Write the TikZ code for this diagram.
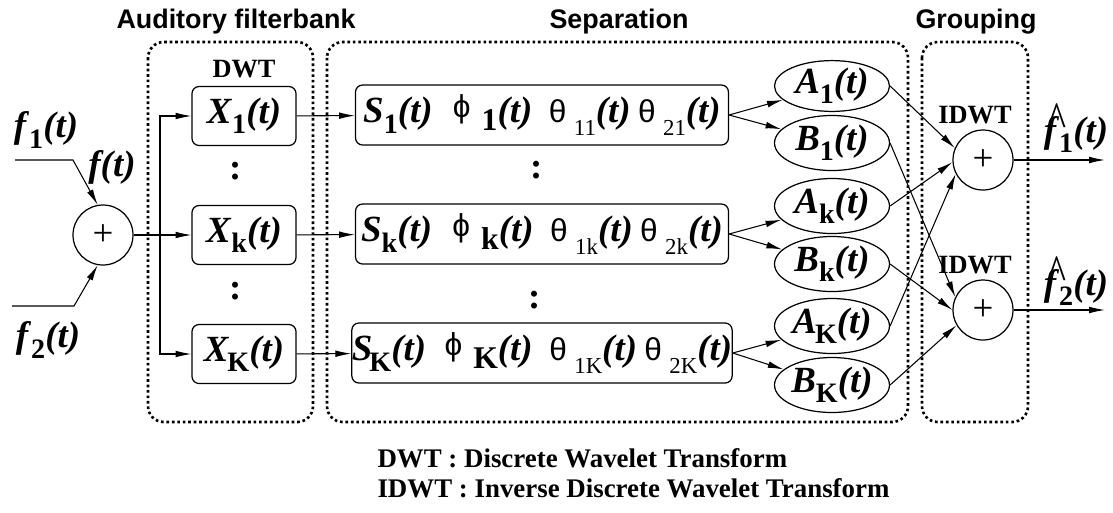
\documentclass[tikz,border=0pt]{standalone}
\usepackage{fontspec}
\setmainfont{Liberation Serif}
\setsansfont{Liberation Sans}
\newfontfamily\grk{Liberation Sans}
\usetikzlibrary{arrows.meta,shapes.geometric,positioning}

\newcommand{\varsig}[3][0em]{\textbf{\textit{#2}}\hspace{#1}\raisebox{-0.28em}{\fontsize{16}{16}\selectfont\bfseries #3}\textbf{\textit{(t)}}}
\newcommand{\phsig}[1]{\raisebox{0.15em}{\grk\fontsize{18}{18}\selectfont ϕ}\hspace{0.3em}\raisebox{-0.2em}{\fontsize{18}{18}\selectfont\bfseries #1}\textbf{\textit{(t)}}}
\newcommand{\thsig}[1]{{\grk\fontsize{18}{18}\selectfont θ}\hspace{0.2em}\raisebox{-0.35em}{\fontsize{13}{13}\selectfont #1}\textbf{\textit{(t)}}}
\newcommand{\fhat}[1]{\makebox[0pt][l]{\hspace{0.1em}\raisebox{0.12em}{\scalebox{1.1}[1.4]{\textasciicircum}}}\varsig{f}{#1}}

\begin{document}
\begin{tikzpicture}[
    ->,
    >={Latex[length=9pt,width=3.8pt]},
    x=0.02cm, y=-0.02cm,
    semithick
  ]
  \tikzstyle{every node}=[font=\fontsize{21}{25}\selectfont]
  \tikzstyle{adder}=[circle,draw,line width=0.7pt,minimum size=1.2cm,inner sep=0pt]
  \tikzstyle{dwtbox}=[draw,line width=0.7pt,rounded corners=4pt,minimum width=2.08cm,minimum height=1.18cm,inner sep=0pt]
  \tikzstyle{sepbox}=[dwtbox,minimum width=7.46cm,minimum height=1.2cm]
  \tikzstyle{part}=[ellipse,draw,line width=0.7pt,minimum width=2.3cm,minimum height=1.1cm,inner sep=0pt]
  \tikzstyle{frame}=[draw,-,line width=1.5pt,dash pattern=on 1.5pt off 1.6pt,rounded corners=9pt]
  \tikzstyle{title}=[font=\sffamily\bfseries\fontsize{15.3}{18}\selectfont]
  \tikzstyle{tag}=[font=\bfseries\fontsize{15}{17}\selectfont,inner sep=1pt]
  \tikzstyle{legend}=[font=\bfseries\fontsize{15.3}{17}\selectfont,align=left,inner sep=0pt]

  \useasboundingbox (0,0) rectangle (1113,512);

  % frames and titles
  \draw[frame] (148,42) rectangle (313,422);
  \draw[frame] (327,42) rectangle (908,422);
  \draw[frame] (922,42) rectangle (1028,422);
  \node[title] (tfilt) at (236,22) {Auditory filterbank};
  \node[title] (tsep)  at (619,22) {Separation};
  \node[title] (tgrp)  at (976,22) {Grouping};

  % mixing
  \node[adder] (mix) at (103,235) {+};
  \node (f1lbl) at (46,130) {\varsig{f}{1}};
  \node (f2lbl) at (48,340) {\varsig{f}{2}};
  \node (flbl)  at (112,167) {\textbf{\textit{f(t)}}};
  \coordinate (f1in)   at (15,160);
  \coordinate (f1bend) at (73,160);
  \coordinate (f2in)   at (12,306);
  \coordinate (f2bend) at (74,306);
  \coordinate (split)  at (160,235);

  % filterbank
  \node[dwtbox] (X1) at (244,116) {\varsig{X}{1}};
  \node[dwtbox] (Xk) at (244,235) {\varsig{X}{k}};
  \node[dwtbox] (XK) at (244,354) {\varsig[-0.05em]{X}{K}};
  \node[tag] (dwt) [above=3pt of X1] {DWT};
  \node (xdots1) at (236,171) {\textbf{:}};
  \node (xdots2) at (236,291) {\textbf{:}};

  % separation
  \node[sepbox] (S1) at (542,115) {\varsig{S}{1}\hspace{0.55em}\phsig{1}\hspace{0.45em}\thsig{11}\hspace{0.2em}\thsig{21}};
  \node[sepbox] (Sk) at (542,234) {\varsig{S}{k}\hspace{0.55em}\phsig{k}\hspace{0.45em}\thsig{1k}\hspace{0.2em}\thsig{2k}};
  \node[sepbox] (SK) at (542,353) {\varsig[-0.08em]{S}{K}\hspace{0.5em}\phsig{K}\hspace{0.45em}\thsig{1K}\hspace{0.2em}\thsig{2K}};
  \node (sdots1) at (537,170) {\textbf{:}};
  \node (sdots2) at (535,300) {\textbf{:}};

  \node[part,minimum height=0.8cm] (A1) at (832,86)  {\varsig{A}{1}};
  \node[part] (B1) at (832,143) {\varsig{B}{1}};
  \node[part] (Ak) at (832,206) {\varsig{A}{k}};
  \node[part] (Bk) at (832,264) {\varsig{B}{k}};
  \node[part] (AK) at (832,326) {\varsig[-0.05em]{A}{K}};
  \node[part] (BK) at (832,385) {\varsig{B}{K}};

  % grouping
  \node[adder] (sum1) at (983,160) {+};
  \node[adder] (sum2) at (983,310) {+};
  \node[tag] (idwt1) [above=2pt of sum1, xshift=-0.16cm] {IDWT};
  \node[tag] (idwt2) [above=2pt of sum2, xshift=-0.16cm] {IDWT};
  \coordinate (out1) at (1105,160);
  \coordinate (out2) at (1105,310);
  \node[anchor=base] (g1lbl) at (1076,142) {\fhat{1}};
  \node[anchor=base] (g2lbl) at (1076,295) {\fhat{2}};

  \draw (f1in) -- (f1bend) -- (mix.100);
  \draw (f2in) -- (f2bend) -- (mix.260);
  \draw (mix) -- (Xk);
  \draw (split) |- (X1);
  \draw (split) |- (XK);

  \path
  (X1) edge (S1)
  (Xk) edge (Sk)
  (XK) edge (SK)
  (S1.east) edge (A1)
  (S1.east) edge (B1)
  (Sk.east) edge (Ak)
  (Sk.east) edge (Bk)
  (SK.east) edge (AK)
  (SK.east) edge (BK)
  (A1.east) edge (sum1.157)
  (Ak.east) edge (sum1.184)
  (AK.east) edge (sum1.207)
  (B1.east) edge (sum2.155)
  (Bk.east) edge (sum2.180)
  (BK.east) edge (sum2.210)
  (sum1) edge (out1)
  (sum2) edge (out2) ;

  \node[legend,anchor=base west] (legend) at (377,497) {DWT : Discrete Wavelet Transform\\IDWT : Inverse Discrete Wavelet Transform};
\end{tikzpicture}
\end{document}
